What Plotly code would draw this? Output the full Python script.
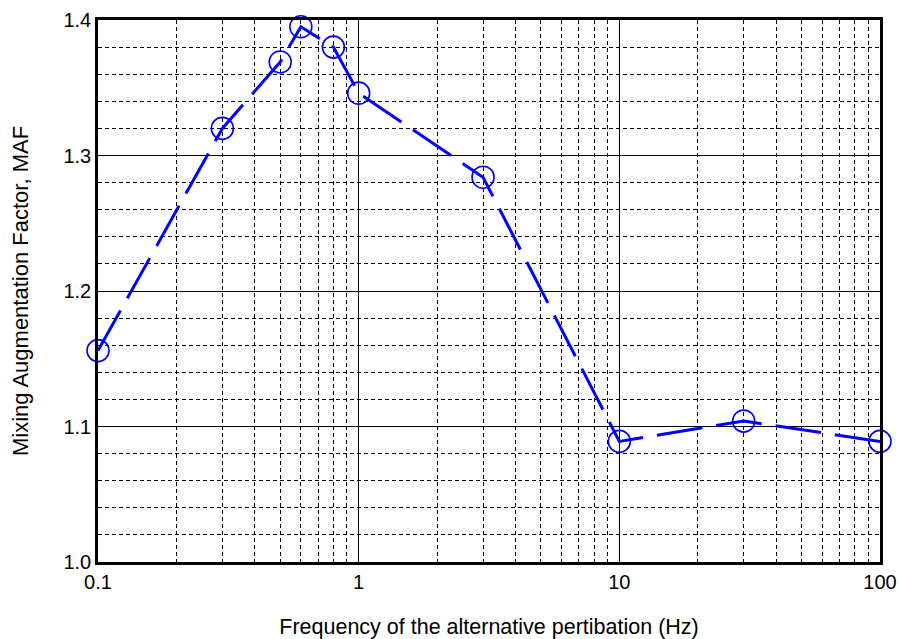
import plotly.graph_objects as go

freq = [0.1, 0.3, 0.5, 0.6, 0.8, 1, 3, 10, 30, 100]
maf = [1.156, 1.320, 1.369, 1.395, 1.380, 1.346, 1.284, 1.089, 1.104, 1.089]

x_tickvals = [0.1, 1, 10, 100]
x_ticktext = ["0.1", "1", "10", "100"]
y_tickvals = [1.0, 1.1, 1.2, 1.3, 1.4]
y_ticktext = ["1.0", "1.1", "1.2", "1.3", "1.4"]

font_family = "Liberation Sans, Arial, sans-serif"

fig = go.Figure()
fig.add_trace(go.Scatter(
    x=freq, y=maf, mode="lines+markers",
    line=dict(color="#0000ff", width=3, dash="46px,14px"),
    marker=dict(symbol="circle-open", size=22, color="#0000ff", line=dict(width=1.6, color="#0000ff")),
    cliponaxis=False,
    showlegend=False,
))

fig.update_layout(
    width=899, height=639,
    margin=dict(l=98, r=19, t=20, b=77),
    paper_bgcolor="white", plot_bgcolor="white",
    font=dict(family=font_family, color="black", size=20),
    xaxis=dict(
        type="log", range=[-1, 2], automargin=False,
        tickvals=x_tickvals, ticktext=x_ticktext,
        showgrid=True, gridcolor="black", gridwidth=1,
        showline=True, linecolor="black", linewidth=2.5, mirror=True,
        ticks="", zeroline=False,
        tickfont=dict(size=20),
        minor=dict(dtick="D1", showgrid=True, gridcolor="black", gridwidth=1, griddash="4px,3px", ticks=""),
        title=dict(text="Frequency of the alternative pertibation (Hz)", font=dict(size=21.5), standoff=31),
    ),
    yaxis=dict(
        range=[1.0, 1.4], automargin=False,
        tickvals=y_tickvals, ticktext=y_ticktext,
        showgrid=True, gridcolor="black", gridwidth=1,
        showline=True, linecolor="black", linewidth=2.5, mirror=True,
        ticks="", zeroline=False,
        tickfont=dict(size=20),
        minor=dict(dtick=0.02, showgrid=True, gridcolor="black", gridwidth=1, griddash="4px,3px", ticks=""),
        title=dict(text="Mixing Augmentation Factor, MAF", font=dict(size=22), standoff=29),
    ),
)

fig.write_html("out.html")
